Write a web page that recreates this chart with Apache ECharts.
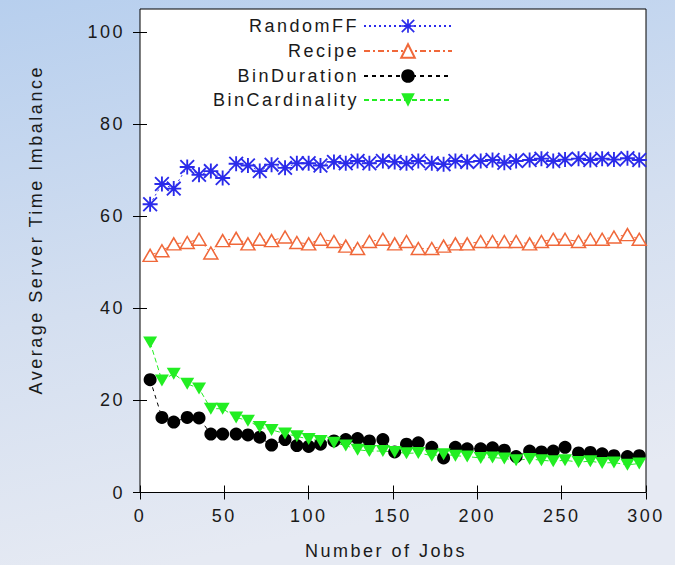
<!DOCTYPE html>
<html>
<head>
<meta charset="utf-8">
<script src="https://cdn.jsdelivr.net/npm/echarts@6/dist/echarts.min.js"></script>
<style>
  html, body { margin: 0; padding: 0; }
  #chart { width: 675px; height: 565px; }
  /* wide, gnuplot-like lettering */
  #chart text { letter-spacing: 2.5px; }
</style>
</head>
<body>
<div id="chart"></div>
<script>
// Number of jobs at each measurement
const jobs = [6, 13, 20, 28, 35, 42, 49, 57, 64, 71, 78, 86, 93, 100, 107, 115, 122, 129, 136, 144,
  151, 158, 165, 173, 180, 187, 194, 202, 209, 216, 223, 231, 238, 245, 252, 260, 267, 274, 281, 289, 296];

// Average server time imbalance per strategy
const randomFF = [62.6, 67, 66, 70.7, 69, 69.8, 68.3, 71.4, 71, 69.8, 71.2, 70.5, 71.5, 71.5, 71, 71.8, 71.5, 72, 71.5, 72,
  71.8, 71.5, 72, 71.5, 71.3, 72, 71.8, 72, 72.2, 71.6, 72, 72.2, 72.5, 72, 72.3, 72.5, 72.2, 72.5, 72.3, 72.6, 72.2];
const recipe = [51.5, 52.5, 54, 54.3, 55, 52, 54.7, 55.2, 54, 55, 54.7, 55.5, 54.3, 54, 55, 54.5, 53.5, 53, 54.5, 55,
  54, 54.5, 53, 53, 53.5, 54, 54, 54.5, 54.5, 54.5, 54.5, 54, 54.5, 55, 55, 54.5, 55, 55, 55.5, 56, 55];
const binDuration = [24.5, 16.3, 15.3, 16.3, 16.2, 12.7, 12.7, 12.7, 12.5, 12.0, 10.3, 11.5, 10.2, 10.0, 10.5, 11.2, 11.5, 11.7, 11.2, 11.5,
  8.8, 10.5, 10.8, 9.8, 7.5, 9.8, 9.5, 9.5, 9.7, 9.2, 7.8, 9.0, 8.8, 9.0, 9.8, 8.6, 8.7, 8.4, 8.0, 7.8, 8.0];
const binCardinality = [32.6, 24.3, 25.8, 23.6, 22.6, 18.2, 18.2, 16.3, 15.6, 14.2, 13.6, 12.8, 12.2, 11.6, 11.2, 10.8, 10.2, 9.3, 9.0, 9.0,
  8.8, 8.5, 8.6, 8.0, 8.3, 8.0, 7.8, 7.5, 7.6, 7.4, 7.0, 7.3, 7.0, 6.8, 7.0, 6.6, 6.8, 6.4, 6.5, 6.0, 6.3];

const xTicks = [0, 50, 100, 150, 200, 250, 300];
const yTicks = [0, 20, 40, 60, 80, 100];

const FONT = '"Liberation Sans", Arial, Helvetica, sans-serif';
const TEXT = '#1a1a1a';

// eight-spoke asterisk marker
const ASTERISK = 'path://M10.5,0h3v24h-3z M0,10.5h24v3h-24z M2.1,0L24,21.9L21.9,24L0,2.1z M21.9,0L24,2.1L2.1,24L0,21.9z';

const pairs = vals => jobs.map((x, i) => [x, vals[i]]);

const seriesDefs = [
  { name: 'RandomFF', data: randomFF, color: '#2b2bea', symbol: ASTERISK, size: 15, rotate: 0,
    line: [2, 3], fill: '#2b2bea', border: 0 },
  { name: 'Recipe', data: recipe, color: '#f0683a', symbol: 'triangle', size: [14, 12], rotate: 0,
    line: [6, 3, 2, 3], fill: '#ffffff', border: 1.5 },
  { name: 'BinDuration', data: binDuration, color: '#000000', symbol: 'circle', size: 13, rotate: 0,
    line: [4, 4], fill: '#000000', border: 0 },
  { name: 'BinCardinality', data: binCardinality, color: '#22ee22', symbol: 'triangle', size: [14, 12], rotate: 180,
    line: [5, 3], fill: '#22ee22', border: 0 }
];

const legendCenters = [26, 51, 76, 100];

const chart = echarts.init(document.getElementById('chart'), null, { renderer: 'svg' });

const xAxisBase = {
  type: 'value', min: 0, max: 300, interval: 50,
  splitLine: { show: false },
  axisLine: { show: false },
  axisTick: { show: true, inside: true, length: 7, lineStyle: { color: '#000', width: 1 } }
};
const yAxisBase = {
  type: 'value', min: 0, max: 105, interval: 20,
  splitLine: { show: false },
  axisLine: { show: false },
  axisTick: { show: true, inside: true, length: 7, lineStyle: { color: '#000', width: 1 },
    customValues: yTicks }
};

chart.setOption({
  animation: false,
  backgroundColor: {
    type: 'linear', x: 0, y: 0, x2: 0.25, y2: 1,
    colorStops: [
      { offset: 0, color: '#b7cfee' },
      { offset: 0.55, color: '#d4dff0' },
      { offset: 1, color: '#e6eaf3' }
    ]
  },
  grid: {
    left: 140, right: 29, top: 9, bottom: 72.5,
    show: true, backgroundColor: '#ffffff', borderColor: '#000000', borderWidth: 1
  },
  xAxis: [
    Object.assign({}, xAxisBase, {
      position: 'bottom',
      name: 'Number of Jobs', nameLocation: 'middle', nameGap: 49,
      nameTextStyle: { fontFamily: FONT, fontSize: 18, color: TEXT, padding: [0, 14, 0, 0] },
      axisLabel: { show: true, margin: 14, fontFamily: FONT, fontSize: 18, color: TEXT,
        customValues: xTicks },
      axisTick: Object.assign({}, xAxisBase.axisTick, { customValues: xTicks })
    }),
    Object.assign({}, xAxisBase, {
      position: 'top', axisLabel: { show: false },
      axisTick: Object.assign({}, xAxisBase.axisTick, { customValues: xTicks })
    })
  ],
  yAxis: [
    Object.assign({}, yAxisBase, {
      position: 'left',
      name: 'Average Server Time Imbalance', nameLocation: 'middle', nameGap: 95, nameRotate: 90,
      nameTextStyle: { fontFamily: FONT, fontSize: 18, color: TEXT, padding: [0, 0, 0, 42] },
      axisLabel: { show: true, margin: 15, fontFamily: FONT, fontSize: 18, color: TEXT,
        customValues: yTicks }
    }),
    Object.assign({}, yAxisBase, { position: 'right', axisLabel: { show: false } })
  ],
  legend: seriesDefs.map((s, i) => ({
    data: [s.name],
    orient: 'vertical',
    align: 'right',
    right: 222,
    top: legendCenters[i] - 9,
    padding: 0,
    itemWidth: 88,
    itemHeight: 17,
    selectedMode: false,
    textStyle: { fontFamily: FONT, fontSize: 18, color: TEXT }
  })),
  series: seriesDefs.map(s => ({
    name: s.name,
    type: 'line',
    data: pairs(s.data),
    symbol: s.symbol,
    symbolSize: s.size,
    symbolRotate: s.rotate,
    showSymbol: true,
    showAllSymbol: true,
    lineStyle: { color: s.color, width: 1, type: s.line },
    itemStyle: { color: s.fill, borderColor: s.color, borderWidth: s.border },
    emphasis: { disabled: true }
  }))
});
</script>
</body>
</html>
